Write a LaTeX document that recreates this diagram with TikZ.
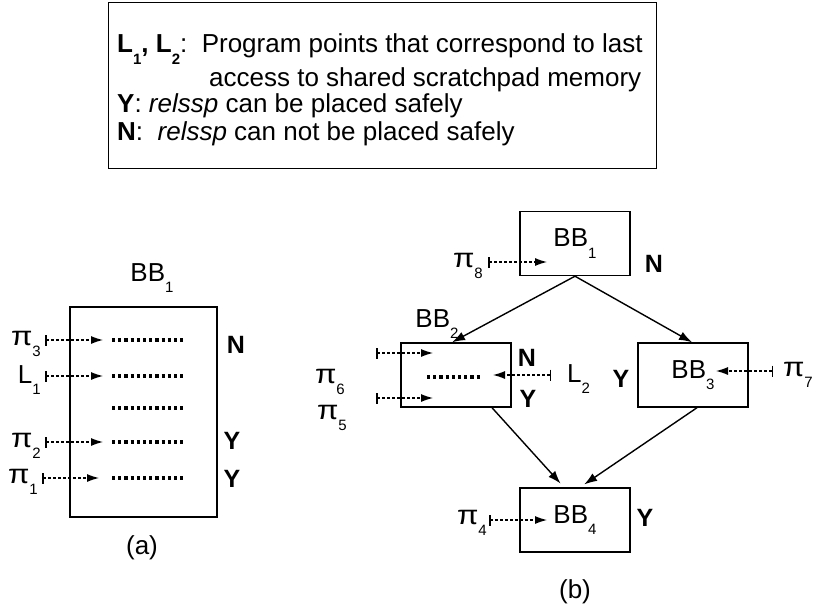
\documentclass[tikz,border=0pt]{standalone}
\usepackage{fontspec}
\setmainfont{Liberation Sans}
\usetikzlibrary{arrows.meta}

% lowered small index, as in BB_1, L_2, pi_3
\newcommand{\idx}[1]{\raisebox{-0.45em}{\fontsize{15}{15}\selectfont #1}}
% wide pi used for program points
\newcommand{\pisym}{\scalebox{1.15}[1]{\fontsize{27}{27}\selectfont π}}

\begin{document}
\begin{tikzpicture}[x=1pt,y=-1pt,
  every node/.style={font=\fontsize{26}{30}\selectfont, inner sep=0pt},
  block/.style={draw, line width=1.4pt, fill=white},
  probe/.style={dashed, dash pattern=on 3pt off 2pt, line width=1.1pt,
                {Bar[width=11pt,line width=1.5pt]}-{Latex[length=12pt,width=8pt]}},
  cfg/.style={line width=1.4pt, -{Latex[length=13pt,width=9pt]}},
  stmts/.style={line width=3.2pt, dash pattern=on 3.2pt off 3pt},
  verdict/.style={font=\bfseries\fontsize{25}{30}\selectfont},
  lbl/.style={anchor=east}
]
\useasboundingbox (0,0) rectangle (814,610);

% ---------- legend ----------
\node[draw, line width=1pt, minimum width=548, minimum height=166, anchor=north west]
  (legend) at (108,2) {};
\node[anchor=base west] (leg1) at (117,53)
  {\textbf{L\idx{1}, L\idx{2}}:\ \ Program points that correspond to last};
\node[anchor=base west] (leg2) at (209,86) {access to shared scratchpad memory};
\node[anchor=base west] (leg3) at (117,112) {\textbf{Y}: \textit{relssp} can be placed safely};
\node[anchor=base west] (leg4) at (117,140) {\textbf{N}:\ \ \textit{relssp} can not be placed safely};

% ---------- (a): a single basic block ----------
\node[block, minimum width=147, minimum height=210] (ba) at (143.5,412) {};
\node (ba-name) at (152,278) {BB\idx{1}};
\node (capa) at (142,548) {(a)};

% statements inside the block
\foreach \r/\y in {1/340,2/376,3/408,4/442,5/478}{
  \coordinate (sa\r) at (112,\y);
  \coordinate (se\r) at (185,\y);
  \draw[stmts] (sa\r) -- (se\r);
}

% program points entering the block
\node[lbl] (pi3) at (41,344) {\pisym\idx{3}};
\node[lbl] (l1)  at (41,380) {L\idx{1}};
\node[lbl] (pi2) at (41,446) {\pisym\idx{2}};
\node[lbl] (pi1) at (38,482) {\pisym\idx{1}};
\coordinate (t3) at (45,340);
\coordinate (t1) at (45,376);
\coordinate (t2) at (45,442);
\coordinate (t0) at (42,478);
\coordinate (h3) at (103,340);
\coordinate (h1) at (103,376);
\coordinate (h2) at (103,442);
\coordinate (h0) at (99,478);
\draw[probe] (t3) -- (h3);
\draw[probe] (t1) -- (h1);
\draw[probe] (t2) -- (h2);
\draw[probe] (t0) -- (h0);

\node[verdict] (ma3) at (236,345) {N};
\node[verdict] (ma2) at (232,441) {Y};
\node[verdict] (ma1) at (232,479) {Y};

% ---------- (b): control flow graph ----------
\node[block, minimum width=110, minimum height=64] (b1) at (575,243.5) {BB\idx{1}};
\node[block, minimum width=110, minimum height=64] (b2) at (456,375) {};
\node[block, minimum width=110, minimum height=64] (b3) at (693,375) {BB\idx{3}};
\node[block, minimum width=110, minimum height=64] (b4) at (575,520) {BB\idx{4}};
\node (b2-name) at (437,324) {BB\idx{2}};
\node (capb) at (575,592) {(b)};

\draw[cfg] (b1.south) -- ([xshift=-4pt]b2.north);
\draw[cfg] (b1.south) -- ([xshift=-1pt]b3.north);
\draw[cfg, shorten >=5pt] ([xshift=36pt]b2.south) -- ([xshift=-11pt]b4.north);
\draw[cfg, shorten >=5pt] ([xshift=4pt]b3.south) -- ([xshift=5pt]b4.north);

% statements in BB2
\coordinate (sb1) at (427,377);
\coordinate (sb2) at (480,377);
\draw[stmts] (sb1) -- (sb2);

% program points in the graph
\node[lbl] (pi8) at (483,266) {\pisym\idx{8}};
\coordinate (t8) at (488,262);
\coordinate (h8) at (547,262);
\draw[probe] (t8) -- (h8);

\node[lbl] (pi6) at (345,382) {\pisym\idx{6}};
\node[lbl] (pi5) at (347,418) {\pisym\idx{5}};
\coordinate (t6) at (376,353);
\coordinate (h6) at (433,353);
\coordinate (t5) at (376,398);
\coordinate (h5) at (433,398);
\draw[probe] (t6) -- (h6);
\draw[probe] (t5) -- (h5);

\node[anchor=west] (l2) at (567,379) {L\idx{2}};
\coordinate (t2b) at (551,375);
\coordinate (h2b) at (493,375);
\draw[probe] (t2b) -- (h2b);

\node[anchor=east] (pi7) at (813,375) {\pisym\idx{7}};
\coordinate (t7) at (773,371);
\coordinate (h7) at (716,371);
\draw[probe] (t7) -- (h7);

\node[lbl] (pi4) at (487,523) {\pisym\idx{4}};
\coordinate (t4) at (489,520);
\coordinate (h4) at (547,520);
\draw[probe] (t4) -- (h4);

\node[verdict] (mb1) at (654,264) {N};
\node[verdict] (mb2n) at (527,358) {N};
\node[verdict] (mb2y) at (528,399) {Y};
\node[verdict] (mb3) at (621,379) {Y};
\node[verdict] (mb4) at (645,518) {Y};
\end{tikzpicture}
\end{document}
